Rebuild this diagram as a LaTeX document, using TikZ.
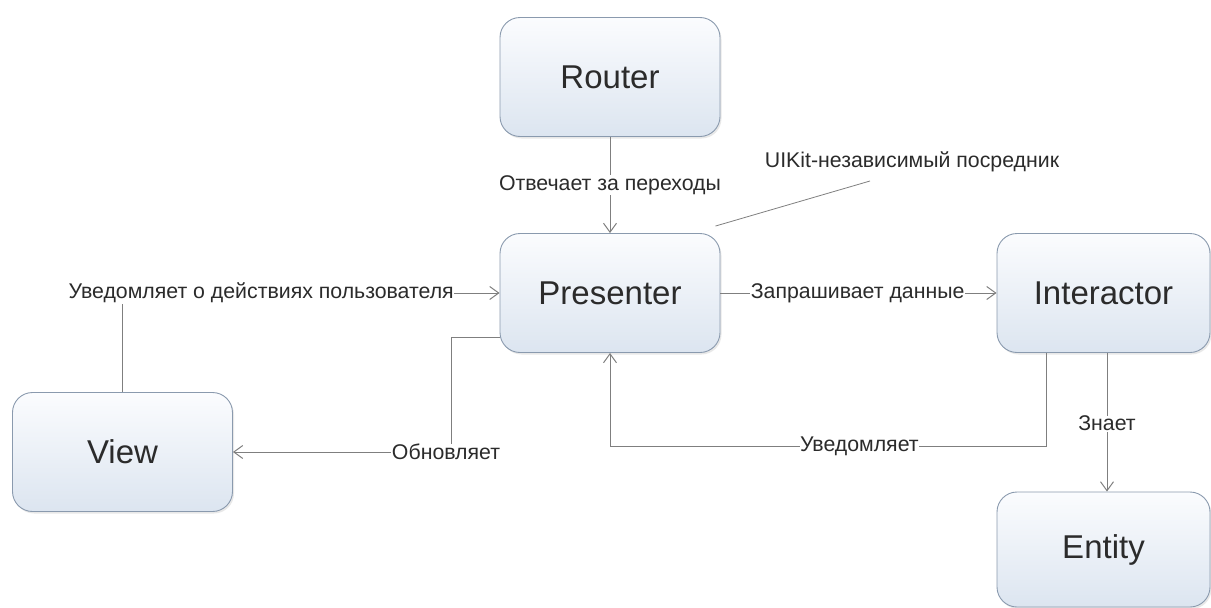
\documentclass[tikz,border=0pt]{standalone}
\usepackage{fontspec}
\setmainfont{Liberation Sans}
\usetikzlibrary{arrows.meta,shadows}
\definecolor{boxline}{HTML}{8A9AAE}
\definecolor{boxtop}{HTML}{FBFCFE}
\definecolor{boxbot}{HTML}{DCE5F0}
\definecolor{wire}{HTML}{7F7F7F}
\definecolor{ink}{HTML}{2B2B2B}
\tikzset{
  block/.style={draw=boxline, line width=0.9pt, rounded corners=20pt,
    top color=boxtop, bottom color=boxbot,
    drop shadow={opacity=0.18, shadow xshift=1.5pt, shadow yshift=-2pt},
    minimum width=220pt, minimum height=119pt, inner sep=0pt,
    font=\fontsize{33}{38}\selectfont, text=ink},
  wideblock/.style={block, minimum width=213pt},
  conn/.style={draw=wire, line width=1pt},
  arr/.style={conn, -{Straight Barb[length=9pt, width=13pt, line width=1pt]}},
  lbl/.style={fill=white, inner sep=0.5pt, text=ink, font=\fontsize{21.3}{25}\selectfont}
}
\begin{document}
\begin{tikzpicture}[x=1pt, y=-1pt]
  \useasboundingbox (0,0) rectangle (1211,608);

  % components
  \node[block] (router) at (610,77) {Router};
  \node[block] (presenter) at (610,293) {Presenter};
  \node[block] (view) at (122.5,452) {View};
  \node[wideblock] (interactor) at (1103.5,293) {Interactor};
  \node[wideblock, minimum height=115pt] (entity) at (1103.5,549.5) {Entity};

  % routing
  \draw[arr] (router) -- node[lbl] {Отвечает за переходы} (presenter);

  % view reports user actions
  \draw[arr] (view.north) |- node[lbl, pos=0.684] {Уведомляет о действиях пользователя} (presenter.west);

  % presenter updates the view
  \coordinate (updcorner) at (451,452);
  \draw[arr] ([yshift=-44pt]presenter.west) -| (updcorner) -- (view.east);
  \node[lbl] (updlbl) at (446,452) {Обновляет};

  % presenter asks the interactor for data
  \draw[arr] (presenter) -- node[lbl, pos=0.497] {Запрашивает данные} (interactor);

  % interactor notifies the presenter
  \coordinate (ntfcorner) at (610,446);
  \draw[arr] ([xshift=-57.5pt]interactor.south) |- node[lbl, pos=0.714] {Уведомляет} (ntfcorner) -- (presenter.south);

  % interactor knows the entity
  \draw[arr] ([xshift=3.5pt]interactor.south) -- node[lbl, pos=0.51] {Знает} ([xshift=3.5pt]entity.north);

  % annotation
  \node[lbl, fill=none] (note) at (912,162) {UIKit-независимый посредник};
  \coordinate (noteend) at (870,181);
  \draw[conn, line width=0.8pt] ([xshift=-5pt,yshift=7pt]presenter.north east) -- (noteend);
\end{tikzpicture}
\end{document}
